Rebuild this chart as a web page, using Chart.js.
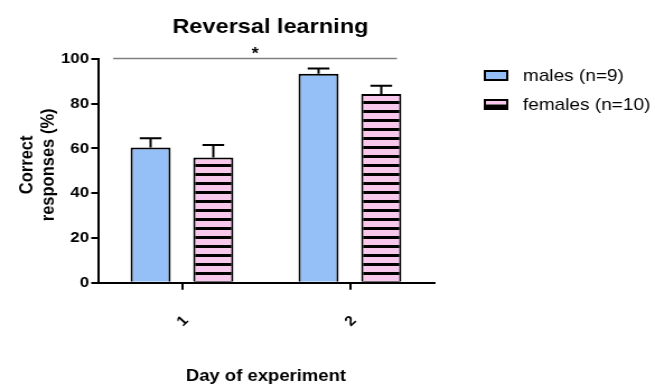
<!DOCTYPE html>
<html>
<head>
<meta charset="utf-8">
<script src="https://cdn.jsdelivr.net/npm/chart.js@4/dist/chart.umd.min.js"></script>
<style>
  html, body { margin: 0; padding: 0; background: #fff; overflow: hidden; }
  #wrap { width: 655px; height: 392px; overflow: hidden; }
  /* the figure is laid out at 585px and widened to the full 655px frame */
  #c { display: block; transform-origin: 0 0; transform: scaleX(1.1197); }
</style>
</head>
<body>
<div id="wrap"><canvas id="c" width="585" height="392"></canvas></div>
<script>
// ---- data ----
const days = ['1', '2'];
const seriesNames = ['males (n=9)', 'females (n=10)'];
const malesMean = [60.4, 93.4];
const malesSem = [4.2, 2.4];
const femalesMean = [56.0, 84.3];
const femalesSem = [5.6, 3.7];
const yTicks = [0, 20, 40, 60, 80, 100];
const chartTitle = 'Reversal learning';
const yTitle = ['Correct', 'responses (%)'];
const xTitle = 'Day of experiment';
const sigMark = '*';

// ---- styling ----
const BLUE = '#94bff7';
const PINK = '#f8c8ec';
const FONT = '"Liberation Sans", Arial, Helvetica, sans-serif';

const canvas = document.getElementById('c');
const ctx0 = canvas.getContext('2d');

// horizontal pink / black stripes for the females bars
function stripePattern() {
  const p = document.createElement('canvas');
  p.width = 8; p.height = 9;
  const g = p.getContext('2d');
  g.fillStyle = PINK; g.fillRect(0, 0, 8, 9);
  g.fillStyle = '#000'; g.fillRect(0, 2, 8, 3);
  return ctx0.createPattern(p, 'repeat');
}

// upward SEM whiskers on every bar
const errorBars = {
  id: 'errorBars',
  afterDatasetsDraw(chart) {
    const { ctx, scales: { y } } = chart;
    ctx.save();
    ctx.strokeStyle = '#000';
    ctx.lineWidth = 2;
    chart.data.datasets.forEach((ds, i) => {
      chart.getDatasetMeta(i).data.forEach((bar, j) => {
        const top = y.getPixelForValue(ds.data[j] + ds.sem[j]);
        const half = bar.width * 0.27;
        ctx.beginPath();
        ctx.moveTo(bar.x, bar.y);
        ctx.lineTo(bar.x, top);
        ctx.moveTo(bar.x - half, top);
        ctx.lineTo(bar.x + half, top);
        ctx.stroke();
      });
    });
    ctx.restore();
  }
};

// title, y-axis title, significance bracket and legend
const decorations = {
  id: 'decorations',
  afterDraw(chart, args, opts) {
    const { ctx, chartArea: ca, scales: { x, y } } = chart;
    ctx.save();

    // chart title
    ctx.fillStyle = '#000';
    ctx.font = 'bold 21px ' + FONT;
    ctx.textAlign = 'center';
    ctx.textBaseline = 'alphabetic';
    ctx.fillText(chartTitle, (ca.left + ca.right) / 2 + 4, 33);

    // y-axis title (two rotated lines)
    ctx.font = 'bold 16.5px ' + FONT;
    ctx.textBaseline = 'middle';
    const cy = (ca.top + ca.bottom) / 2 - 6;
    yTitle.forEach((line, k) => {
      ctx.save();
      ctx.translate(24.5 + k * 18.7, cy);
      ctx.rotate(-Math.PI / 2);
      ctx.fillText(line, 0, 0);
      ctx.restore();
    });

    // significance bracket between days
    const yLine = y.getPixelForValue(100) - 0.5;
    const x0 = x.getPixelForValue(opts.sigFrom);
    const x1 = x.getPixelForValue(opts.sigTo);
    ctx.strokeStyle = '#808080';
    ctx.lineWidth = 1.4;
    ctx.beginPath();
    ctx.moveTo(x0, yLine);
    ctx.lineTo(x1, yLine);
    ctx.stroke();
    ctx.font = 'bold 16px ' + FONT;
    ctx.textBaseline = 'alphabetic';
    ctx.fillText(sigMark, (x0 + x1) / 2, yLine + 0.5);

    // legend
    const lx = 433, bw = 20, bh = 9;
    const rows = [75.5, 104.5];
    ctx.font = '17px ' + FONT;
    ctx.textAlign = 'left';
    ctx.textBaseline = 'middle';
    rows.forEach((ry, k) => {
      const top = ry - bh / 2;
      if (k === 0) {
        ctx.fillStyle = BLUE;
        ctx.fillRect(lx, top, bw, bh);
      } else {
        ctx.fillStyle = PINK;
        ctx.fillRect(lx, top, bw, bh / 2);
        ctx.fillStyle = '#000';
        ctx.fillRect(lx, top + bh / 2, bw, bh / 2);
      }
      ctx.strokeStyle = '#000';
      ctx.lineWidth = 2;
      ctx.strokeRect(lx, top, bw, bh);
      ctx.fillStyle = '#000';
      ctx.fillText(seriesNames[k], 467, ry + 1);
    });

    ctx.restore();
  }
};

new Chart(canvas, {
  type: 'bar',
  data: {
    labels: days,
    datasets: [
      {
        label: seriesNames[0],
        data: malesMean,
        sem: malesSem,
        backgroundColor: BLUE,
        borderColor: '#000',
        borderWidth: 2,
        borderSkipped: 'bottom'
      },
      {
        label: seriesNames[1],
        data: femalesMean,
        sem: femalesSem,
        backgroundColor: stripePattern(),
        borderColor: '#000',
        borderWidth: 2,
        borderSkipped: 'bottom'
      }
    ]
  },
  options: {
    responsive: false,
    animation: false,
    devicePixelRatio: 1,
    layout: { padding: { top: 59, right: 197.5, bottom: 0, left: 0 } },
    datasets: { bar: { categoryPercentage: 0.747, barPercentage: 0.64 } },
    plugins: {
      legend: { display: false },
      title: { display: false },
      tooltip: { enabled: false },
      decorations: { sigFrom: -0.41, sigTo: 1.28 }
    },
    scales: {
      x: {
        offset: true,
        afterFit(s) { s.height = 109.3; },
        border: { display: true, color: '#000', width: 2 },
        grid: { display: true, drawOnChartArea: false, color: '#000', lineWidth: 2, tickLength: 7, offset: false },
        ticks: {
          color: '#000',
          font: { family: FONT, size: 14, weight: 'bold' },
          minRotation: 45,
          maxRotation: 45,
          labelOffset: 3.5,
          padding: 23
        },
        title: {
          display: true,
          text: xTitle,
          color: '#000',
          font: { family: FONT, size: 16.5, weight: 'bold' },
          padding: { top: 0, bottom: 6 }
        }
      },
      y: {
        min: 0,
        max: 100,
        afterFit(s) { s.width = 87.5; },
        afterBuildTicks(s) { s.ticks = yTicks.map(v => ({ value: v })); },
        border: { display: true, color: '#000', width: 2 },
        grid: { display: true, drawOnChartArea: false, color: '#000', lineWidth: 2, tickLength: 6 },
        ticks: {
          color: '#000',
          font: { family: FONT, size: 15, weight: 'bold' },
          padding: 2
        }
      }
    }
  },
  plugins: [errorBars, decorations]
});
</script>
</body>
</html>
